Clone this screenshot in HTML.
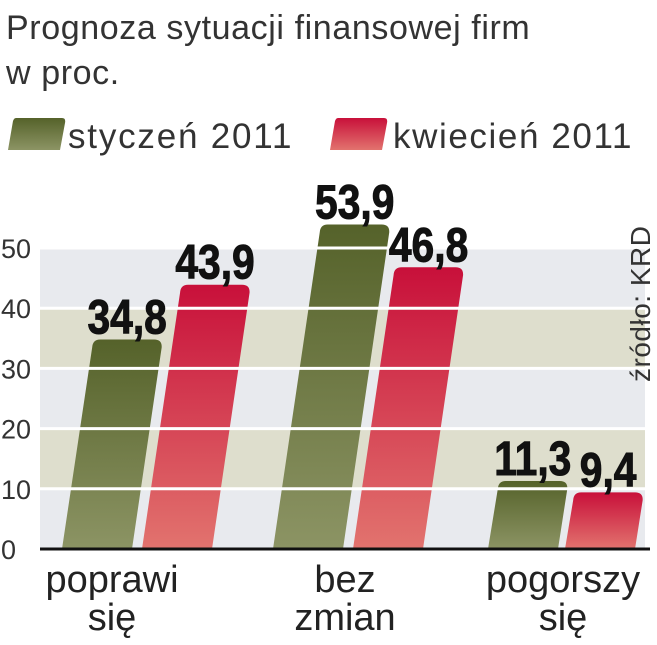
<!DOCTYPE html>
<html><head><meta charset="utf-8"><style>
body{margin:0;background:#fff;width:657px;height:640px;overflow:hidden;font-family:"Liberation Sans",sans-serif}
</style></head><body>
<svg id="chart" width="657" height="640" viewBox="0 0 657 640" xmlns="http://www.w3.org/2000/svg">
<defs>
<linearGradient id="gG" x1="0" y1="0" x2="0" y2="1"><stop offset="0" stop-color="#55622a"/><stop offset="1" stop-color="#8c9464"/></linearGradient>
<linearGradient id="gR" x1="0" y1="0" x2="0" y2="1"><stop offset="0" stop-color="#c8103a"/><stop offset="1" stop-color="#e2736e"/></linearGradient>
</defs>
<text x="6" y="39" font-size="34" letter-spacing="0.6" fill="#333">Prognoza sytuacji finansowej firm</text>
<text x="6" y="84" font-size="34" letter-spacing="0.6" fill="#333">w proc.</text>
<g>
<path d="M16,118 H62 Q66,118 65,123 L60,150 H8 L13,121 Q14,118 16,118Z" fill="url(#gG)"/>
<text x="68" y="148" font-size="35" letter-spacing="1.8" fill="#333">styczeń 2011</text>
<path d="M338,118 H384 Q388,118 387,123 L382,150 H330 L335,121 Q336,118 338,118Z" fill="url(#gR)"/>
<text x="393" y="148" font-size="35" letter-spacing="1.6" fill="#333">kwiecień 2011</text>
</g>
<g id="bands"></g>
<g id="bars"></g>
<g id="grid"></g>
<g id="labels"></g>
<line x1="40" y1="549" x2="650" y2="549" stroke="#111" stroke-width="3"/>
<text transform="translate(650,382) rotate(-90)" font-size="28" letter-spacing="0.5" fill="#333">źródło: KRD</text>
</svg>
<script>
const categories = [["poprawi","się"],["bez","zmian"],["pogorszy","się"]];
const seriesNames = ["styczeń 2011","kwiecień 2011"];
const styczen = [34.8, 53.9, 11.3];
const kwiecien = [43.9, 46.8, 9.4];
const valueLabels = [["34,8","53,9","11,3"],["43,9","46,8","9,4"]];
const yTicks = [0,10,20,30,40,50];

const NS="http://www.w3.org/2000/svg";
const y0=549, pxPer=6.02;
function yScale(v){return y0-v*pxPer;}
const groupX=[62,273,488], barW=70, slope=0.144;
function xBar(ci,si){return groupX[ci]+si*(ci===2?77:80);}
function mk(t,a,p){const e=document.createElementNS(NS,t);for(const k in a)e.setAttribute(k,a[k]);p.appendChild(e);return e;}
const bands=document.getElementById('bands'),grid=document.getElementById('grid'),bars=document.getElementById('bars'),labels=document.getElementById('labels');
for(let i=0;i<yTicks.length-1;i++){
  const r=mk('rect',{x:40,y:yScale(yTicks[i+1]),width:605,height:yScale(yTicks[i])-yScale(yTicks[i+1]),fill:(i%2===1)?'#dedecd':'#e8eaee'},bands);
  
  
}
yTicks.forEach(t=>{
  if(t>0){const l=mk('line',{x1:40,x2:645,y1:yScale(t),y2:yScale(t),stroke:'#fff','stroke-width':3},grid);
  
  }
  const tx=mk('text',{x:1,y:yScale(t)+10,'font-size':27,fill:'#333'},labels);
  tx.textContent=t;
  
  
});
[styczen,kwiecien].forEach((ser,si)=>{
  ser.forEach((v,ci)=>{
    const bx=xBar(ci,si), yt=yScale(v), h=y0-yt, sh=h*slope, tx=bx+sh, r=8;
    const d=`M${bx},${y0} L${tx},${yt+r} Q${tx+0.5},${yt} ${tx+r},${yt} L${tx+barW-r},${yt} Q${tx+barW},${yt} ${tx+barW-0.5},${yt+r} L${bx+barW},${y0} Z`;
    const p=mk('path',{d:d,fill:si===0?'url(#gG)':'url(#gR)'},bars);
    
    
    const cx=tx+barW/2;
    const t=mk('text',{x:cx,y:yt-6,'font-size':48,'font-weight':'bold','text-anchor':'middle',fill:'#111',stroke:'#111','stroke-width':1,'font-family':'"Liberation Sans Narrow","Liberation Sans",sans-serif',transform:`translate(${cx},0) scale(0.85,1) translate(${-cx},0)`},labels);
    t.textContent=valueLabels[si][ci];
    
    
  });
});
const catX=[112,345,563];
categories.forEach((c,ci)=>{
  c.forEach((w,li)=>{
    const t=mk('text',{x:catX[ci],y:592+li*38,'font-size':38,'text-anchor':'middle',fill:'#222'},labels);
    t.textContent=w;
    
    
  });
});
</script>
</body></html>
